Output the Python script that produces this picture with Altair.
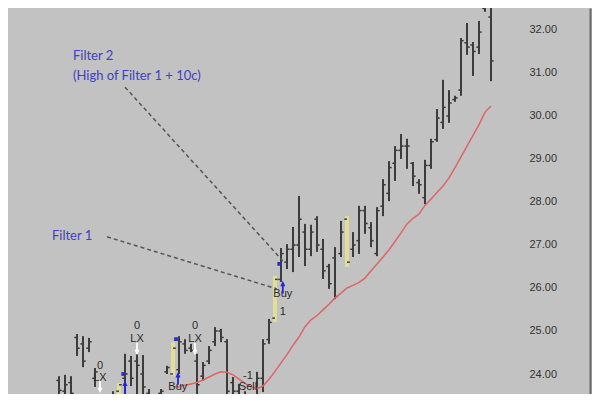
import altair as alt
import pandas as pd

# ---------------- data ----------------
bar_index = list(range(73))
opens = [23.85, 23.60, 23.80, 24.85, 24.70, 24.60, 23.90, 23.40, 23.20, 23.30,
         23.60, 23.90, 24.30, 24.30, 24.00, 23.55, 23.30, 23.55, 24.05, 24.00,
         24.10, 24.70, 24.60, 24.30, 23.95, 24.30, 24.75, 25.00, 24.75, 23.80,
         23.60, 23.50, 23.30, 23.50, 23.90, 24.80, 25.30, 26.20, 26.60, 26.90,
         27.00, 27.30, 26.90, 27.60, 26.90, 26.50, 26.70, 26.80, 27.60, 26.90,
         27.10, 27.80, 27.40, 26.80, 27.90, 28.20, 28.90, 29.20, 29.30, 28.90,
         28.45, 28.10, 28.85, 29.45, 29.85, 30.00, 30.38, 30.60, 31.70, 31.65,
         31.60, 32.50, 32.30]
highs = [23.95, 23.98, 23.95, 24.93, 24.88, 24.84, 24.14, 23.50, 23.30, 23.60,
         23.79, 24.47, 24.42, 24.47, 24.44, 23.65, 23.50, 23.65, 24.19, 24.74,
         24.88, 24.81, 24.70, 24.47, 24.28, 24.65, 25.09, 25.05, 24.81, 23.93,
         23.77, 23.60, 23.45, 24.05, 24.81, 25.28, 26.28, 26.93, 27.02, 27.42,
         28.14, 27.49, 27.47, 27.67, 27.14, 26.56, 26.95, 27.56, 27.67, 27.30,
         27.91, 27.91, 27.53, 27.88, 28.53, 28.95, 29.30, 29.58, 29.47, 28.93,
         28.53, 28.98, 29.47, 30.16, 30.84, 30.60, 30.47, 31.81, 32.16, 31.72,
         32.21, 33.00, 33.00]
lows = [23.30, 23.30, 23.35, 24.42, 24.16, 24.51, 23.70, 23.10, 22.90, 23.20,
        23.47, 23.53, 23.72, 23.30, 23.53, 23.30, 23.10, 23.45, 24.00, 23.95,
        24.00, 24.47, 24.51, 23.49, 23.84, 24.23, 24.65, 24.74, 23.40, 23.30,
        23.30, 23.20, 23.00, 23.30, 23.58, 24.70, 25.21, 26.14, 26.44, 26.37,
        26.72, 26.51, 26.74, 26.84, 26.21, 25.98, 25.74, 26.72, 26.49, 26.72,
        26.79, 27.26, 26.95, 26.74, 27.67, 28.02, 28.49, 29.00, 28.77, 28.37,
        28.19, 27.95, 28.77, 29.40, 29.70, 29.84, 30.33, 30.47, 31.42, 30.93,
        31.44, 32.42, 30.81]
closes = [23.62, 23.75, 23.55, 24.60, 24.30, 24.75, 24.05, 23.20, 23.00, 23.50,
          23.75, 24.00, 23.90, 24.20, 23.70, 23.45, 23.45, 23.60, 24.15, 24.60,
          24.75, 24.55, 24.55, 23.75, 24.20, 24.55, 25.00, 24.85, 23.60, 23.60,
          23.50, 23.40, 23.20, 23.90, 24.70, 25.20, 26.20, 26.80, 26.90, 27.00,
          27.60, 26.90, 27.30, 27.00, 26.40, 26.10, 25.80, 27.30, 26.60, 27.00,
          27.80, 27.50, 27.10, 27.80, 28.40, 28.80, 29.20, 29.30, 29.30, 28.60,
          28.40, 28.85, 29.40, 29.95, 30.20, 30.30, 30.42, 31.75, 31.60, 31.50,
          31.95, 32.90, 31.28]
filter_bars = [10, 19, 36, 48]

ma_index = list(range(19, 73))
ma_values = [23.70, 23.71, 23.74, 23.77, 23.80, 23.86, 23.93, 24.00, 24.05, 24.04,
             23.98, 23.88, 23.78, 23.70, 23.66, 23.72, 23.88, 24.06, 24.26, 24.45,
             24.67, 24.86, 25.10, 25.26, 25.36, 25.49, 25.62, 25.77, 25.88, 26.00,
             26.06, 26.13, 26.23, 26.40, 26.56, 26.72, 26.89, 27.08, 27.28, 27.49,
             27.62, 27.72, 27.92, 28.07, 28.22, 28.37, 28.56, 28.80, 29.05, 29.30,
             29.55, 29.80, 30.09, 30.23]

y_ticks = [24, 25, 26, 27, 28, 29, 30, 31, 32]

# signal labels on the chart
label_index = [6.83, 6.83, 13, 13, 22.67, 22.67, 19.8, 37.3, 37.3, 31.5, 31.5]
label_price = [24.19, 23.91, 25.12, 24.81, 25.12, 24.81, 23.70, 25.86, 25.44, 23.96, 23.70]
label_text = ["0", "LX", "0", "LX", "0", "LX", "Buy", "Buy", "1", "-1", "Sell"]

buy_arrow_index = [11, 19.83, 37.3]
buy_arrow_price = [23.70, 23.90, 26.02]
exit_arrow_index = [6.83, 13, 22.67]
exit_arrow_price = [23.70, 24.58, 24.58]
dot_index = [10.7, 19.5, 36.7]
dot_price = [24.00, 24.81, 26.56]

note_text = ["Filter 2", "(High of Filter 1 + 10c)", "Filter 1"]
note_index = [2.33, 2.33, -1.17]
note_price = [31.40, 30.93, 27.21]

conn_x = [11.0, 8.0]
conn_y = [30.67, 27.19]
conn_x2 = [37.3, 36.3]
conn_y2 = [26.63, 25.98]

# ---------------- chart ----------------
W, H = 512, 386
X0, X1 = -8.5, 76.83
X = alt.Scale(domain=[X0, X1], nice=False, zero=False)
Y = alt.Scale(domain=[23.535, 32.51], nice=False, zero=False)
DARK = "#3c3c3c"
YELLOW = "#e2dd98"

# the axis domain line doubles as the dark frame line at the panel's right edge
y_axis = alt.Axis(orient="right", values=y_ticks, format=".2f", ticks=False,
                  domain=True, domainColor="#6a6a6a", domainWidth=2, offset=70,
                  grid=False, labelFont="Liberation Sans", labelFontSize=11,
                  labelColor="#333333", labelPadding=-61, title=None)


def xe(field):
    return alt.X(field, scale=X, axis=None)


def ye(field):
    return alt.Y(field, scale=Y, axis=y_axis)


bars = pd.DataFrame({"i": bar_index, "o": opens, "h": highs, "l": lows, "c": closes})
bars["filter"] = bars["i"].isin(filter_bars)
base = alt.Chart(bars)

body = base.transform_filter("!datum.filter").mark_rule(strokeWidth=2, color=DARK, clip=True).encode(
    x=xe("i:Q"), y=ye("l:Q"), y2="h:Q",
)
ybody = base.transform_filter("datum.filter").mark_rule(strokeWidth=4, color=YELLOW, clip=True).encode(
    x=xe("i:Q"), y=ye("l:Q"), y2="h:Q",
)
open_tick = base.transform_calculate(x0="datum.i - 0.45").mark_rule(
    strokeWidth=1.5, color=DARK, clip=True).encode(
    x=xe("x0:Q"), x2="i:Q", y=ye("o:Q"),
)
close_tick = base.transform_calculate(x1="datum.i + 0.45").mark_rule(
    strokeWidth=1.5, color=DARK, clip=True).encode(
    x=xe("i:Q"), x2="x1:Q", y=ye("c:Q"),
)

ma = alt.Chart(pd.DataFrame({"i": ma_index, "v": ma_values})).mark_line(
    color="#e06464", strokeWidth=1.5, clip=True).encode(
    x=xe("i:Q"), y=ye("v:Q"),
)

conn = alt.Chart(pd.DataFrame({"x": conn_x, "y": conn_y, "x2": conn_x2, "y2": conn_y2})).mark_rule(
    color="#555555", strokeWidth=1.5, strokeDash=[4, 3]).encode(
    x=xe("x:Q"), x2="x2:Q", y=ye("y:Q"), y2="y2:Q",
)

labels = alt.Chart(pd.DataFrame({"i": label_index, "p": label_price, "t": label_text})).mark_text(
    font="Liberation Sans", fontSize=11, color="#2a2a2a").encode(
    x=xe("i:Q"), y=ye("p:Q"), text="t:N",
)

buy_arrows = alt.Chart(pd.DataFrame({"i": buy_arrow_index, "p": buy_arrow_price})).mark_point(
    shape="arrow", filled=True, color="#2424d8", size=160, opacity=1).encode(
    x=xe("i:Q"), y=ye("p:Q"),
)
exit_arrows = alt.Chart(pd.DataFrame({"i": exit_arrow_index, "p": exit_arrow_price})).mark_point(
    shape="arrow", filled=True, color="white", size=150, angle=180, opacity=1).encode(
    x=xe("i:Q"), y=ye("p:Q"),
)
dots = alt.Chart(pd.DataFrame({"i": dot_index, "p": dot_price})).mark_point(
    shape="square", filled=True, color="#2a2ad0", size=14, opacity=1).encode(
    x=xe("i:Q"), y=ye("p:Q"),
)

notes = alt.Chart(pd.DataFrame({"i": note_index, "p": note_price, "t": note_text})).mark_text(
    font="Lato", fontSize=13, color="#4040c8", align="left").encode(
    x=xe("i:Q"), y=ye("p:Q"), text="t:N",
)

chart = alt.layer(
    body, ybody, open_tick, close_tick, ma, conn, labels,
    buy_arrows, exit_arrows, dots, notes,
).properties(
    width=W, height=H,
    background="#c2c2c2",
    padding={"left": 0, "top": 0, "right": 72, "bottom": 0},
    autosize=alt.AutoSizeParams(type="none"),
).configure_view(stroke=None)

chart.save("out.html", embed_options={"renderer": "svg", "actions": False})
